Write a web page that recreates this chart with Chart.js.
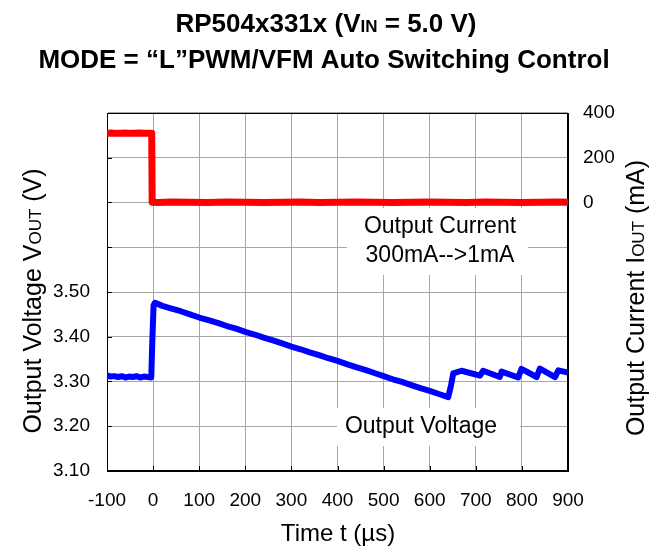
<!DOCTYPE html>
<html>
<head>
<meta charset="utf-8">
<script src="https://cdn.jsdelivr.net/npm/chart.js@4"></script>
<style>
  html, body { margin: 0; padding: 0; background: #fff; }
  #wrap { width: 662px; height: 549px; }
</style>
</head>
<body>
<div id="wrap"><canvas id="waveChart" width="662" height="549"></canvas></div>
<script>
// Output current (mA) vs time (us)
const currentTime = [-100, -90, -80, -70, -60, -50, -40, -30, -20, -10, -3, -2,
    10, 40, 80, 120, 160, 200, 240, 280, 320, 360, 400, 440, 480, 520, 560, 600, 640, 680, 720, 760, 800, 840, 880, 900];
const currentMA = [310, 311, 309, 310, 311, 309, 310, 311, 310, 309, 310, 1,
    0, 2, 1, 0, 2, 1, 0, 1, 2, 0, 1, 2, 1, 0, 1, 2, 1, 0, 2, 1, 0, 1, 2, 1];

// Output voltage (V) vs time (us)
const voltageTime = [-100, -92, -84, -76, -68, -60, -52, -44, -36, -28, -20, -12, -4, -2, 1, 4,
    20, 40, 60, 80, 100, 120, 140, 160, 180, 200, 220, 240, 260, 280, 300, 320, 340, 360, 380,
    400, 420, 440, 460, 480, 500, 520, 540, 560, 580, 600, 620, 640, 646, 651, 669, 709, 716, 752, 756,
    792, 799, 832, 839, 872, 879, 900];
const voltageV = [3.314, 3.311, 3.312, 3.310, 3.312, 3.309, 3.311, 3.310, 3.312, 3.309, 3.311, 3.310, 3.309, 3.380, 3.470, 3.476,
    3.469, 3.463, 3.457, 3.450, 3.443, 3.437, 3.431, 3.424, 3.418, 3.411, 3.405, 3.398, 3.392, 3.385, 3.378, 3.372, 3.365, 3.359, 3.352,
    3.346, 3.339, 3.332, 3.326, 3.319, 3.312, 3.305, 3.299, 3.292, 3.285, 3.279, 3.272, 3.265, 3.290, 3.318, 3.324, 3.313, 3.324, 3.310, 3.322,
    3.309, 3.328, 3.310, 3.329, 3.310, 3.325, 3.320];

const timeTicks = [-100, 0, 100, 200, 300, 400, 500, 600, 700, 800, 900];
const voltageTicks = [3.10, 3.20, 3.30, 3.40, 3.50];
const currentTicks = [0, 200, 400];

const FONT = "Arial, 'Liberation Sans', sans-serif";
const GRID = '#a6a6a6';

const toPoints = (xs, ys) => xs.map((x, i) => ({ x: x, y: ys[i] }));

// draws frame, inner tick marks, titles with subscripts and the two text labels
const decorPlugin = {
    id: 'decor',
    beforeDatasetsDraw(chart) {
        const ctx = chart.ctx;
        const a = chart.chartArea;
        const xs = chart.scales.x, ys = chart.scales.y;
        ctx.save();
        // white boxes behind labels
        ctx.fillStyle = '#fff';
        ctx.fillRect(347, 208, 181, 67);
        ctx.fillRect(337, 408, 183, 38);

        ctx.strokeStyle = '#000';
        ctx.lineWidth = 1;
        ctx.beginPath();
        timeTicks.forEach(t => {
            const px = Math.round(xs.getPixelForValue(t)) + 0.5;
            ctx.moveTo(px, a.bottom);
            ctx.lineTo(px, a.bottom - 5);
        });
        for (let v = 3.1; v <= 3.9001; v += 0.1) {
            const py = Math.round(ys.getPixelForValue(v)) + 0.5;
            ctx.moveTo(a.left, py);
            ctx.lineTo(a.left + 5, py);
        }
        ctx.stroke();
        ctx.strokeRect(a.left + 0.5, a.top + 0.5, a.right - a.left - 1, a.bottom - a.top - 1);

        ctx.fillStyle = '#000';
        ctx.textBaseline = 'middle';
        ctx.textAlign = 'center';
        ctx.font = '23px ' + FONT;
        ctx.fillText('Output Current', 440, 227);
        ctx.fillText('300mA-->1mA', 440, 256);
        ctx.fillText('Output Voltage', 421, 427);
        ctx.restore();
    },
    afterDraw(chart) {
        const ctx = chart.ctx;
        ctx.save();
        ctx.fillStyle = '#000';
        ctx.textBaseline = 'alphabetic';

        const drawSub = (parts, cx, cy) => {
            let w = 0;
            parts.forEach(p => { ctx.font = p[1]; w += ctx.measureText(p[0]).width; });
            let x = cx - w / 2;
            parts.forEach(p => {
                ctx.font = p[1];
                ctx.fillText(p[0], x, cy);
                x += ctx.measureText(p[0]).width;
            });
        };

        // title
        ctx.textAlign = 'left';
        const tb = 'bold 26px ' + FONT;
        drawSub([['RP504x331x (V', tb], ['IN', 'bold 17px ' + FONT], [' = 5.0 V)', tb]], 326, 32);
        drawSub([['MODE = \u201cL\u201dPWM/VFM Auto Switching Control', tb]], 324, 68);

        // x axis title
        drawSub([['Time t (\u00b5s)', '24px ' + FONT]], 338, 541);

        const at = '25px ' + FONT, sub = '17px ' + FONT;
        ctx.save();
        ctx.translate(41, 301);
        ctx.rotate(-Math.PI / 2);
        drawSub([['Output Voltage V', at], ['OUT', sub], [' (V)', at]], 0, 0);
        ctx.restore();

        ctx.save();
        ctx.translate(644, 298);
        ctx.rotate(-Math.PI / 2);
        drawSub([['Output Current I', at], ['OUT', sub], [' (mA)', at]], 0, 0);
        ctx.restore();
        ctx.restore();
    }
};

new Chart(document.getElementById('waveChart'), {
    type: 'scatter',
    data: {
        datasets: [{
            label: 'Output Current',
            data: toPoints(currentTime, currentMA),
            yAxisID: 'y1',
            showLine: true,
            borderColor: '#ff0000',
            borderWidth: 7,
            pointRadius: 0,
            borderJoinStyle: 'round',
            borderCapStyle: 'round'
        }, {
            label: 'Output Voltage',
            data: toPoints(voltageTime, voltageV),
            yAxisID: 'y',
            showLine: true,
            borderColor: '#0000ff',
            borderWidth: 6,
            pointRadius: 0,
            borderJoinStyle: 'round',
            borderCapStyle: 'round'
        }]
    },
    options: {
        responsive: false,
        animation: false,
        layout: { padding: { top: 113, left: 0, right: 0, bottom: 0 } },
        plugins: {
            legend: { display: false },
            tooltip: { enabled: false }
        },
        scales: {
            x: {
                type: 'linear',
                min: -100,
                max: 900,
                afterFit: s => { s.height = 78; },
                afterBuildTicks: s => { s.ticks = timeTicks.map(v => ({ value: v })); },
                grid: { color: GRID, drawTicks: false },
                border: { color: '#000' },
                ticks: { color: '#000', padding: 18, maxRotation: 0, autoSkip: false, font: { family: FONT, size: 19 } }
            },
            y: {
                type: 'linear',
                position: 'left',
                min: 3.1,
                max: 3.9,
                afterFit: s => { s.width = 107; },
                afterBuildTicks: s => {
                    const t = [];
                    for (let i = 0; i <= 8; i++) t.push({ value: 3.1 + i * 0.1 });
                    s.ticks = t;
                },
                grid: { color: GRID, drawTicks: false },
                border: { color: '#000' },
                ticks: {
                    color: '#000', padding: 17, font: { family: FONT, size: 19 },
                    callback: v => voltageTicks.some(t => Math.abs(t - v) < 1e-6) ? v.toFixed(2) : ''
                }
            },
            y1: {
                type: 'linear',
                position: 'right',
                min: -1200,
                max: 400,
                afterFit: s => { s.width = 94; },
                afterBuildTicks: s => {
                    const t = [];
                    for (let v = -1200; v <= 400; v += 200) t.push({ value: v });
                    s.ticks = t;
                },
                grid: { display: false, drawTicks: false },
                border: { color: '#000' },
                ticks: {
                    color: '#000', padding: 15, font: { family: FONT, size: 19 },
                    callback: v => currentTicks.includes(v) ? String(v) : ''
                }
            }
        }
    },
    plugins: [decorPlugin]
});
</script>
</body>
</html>
